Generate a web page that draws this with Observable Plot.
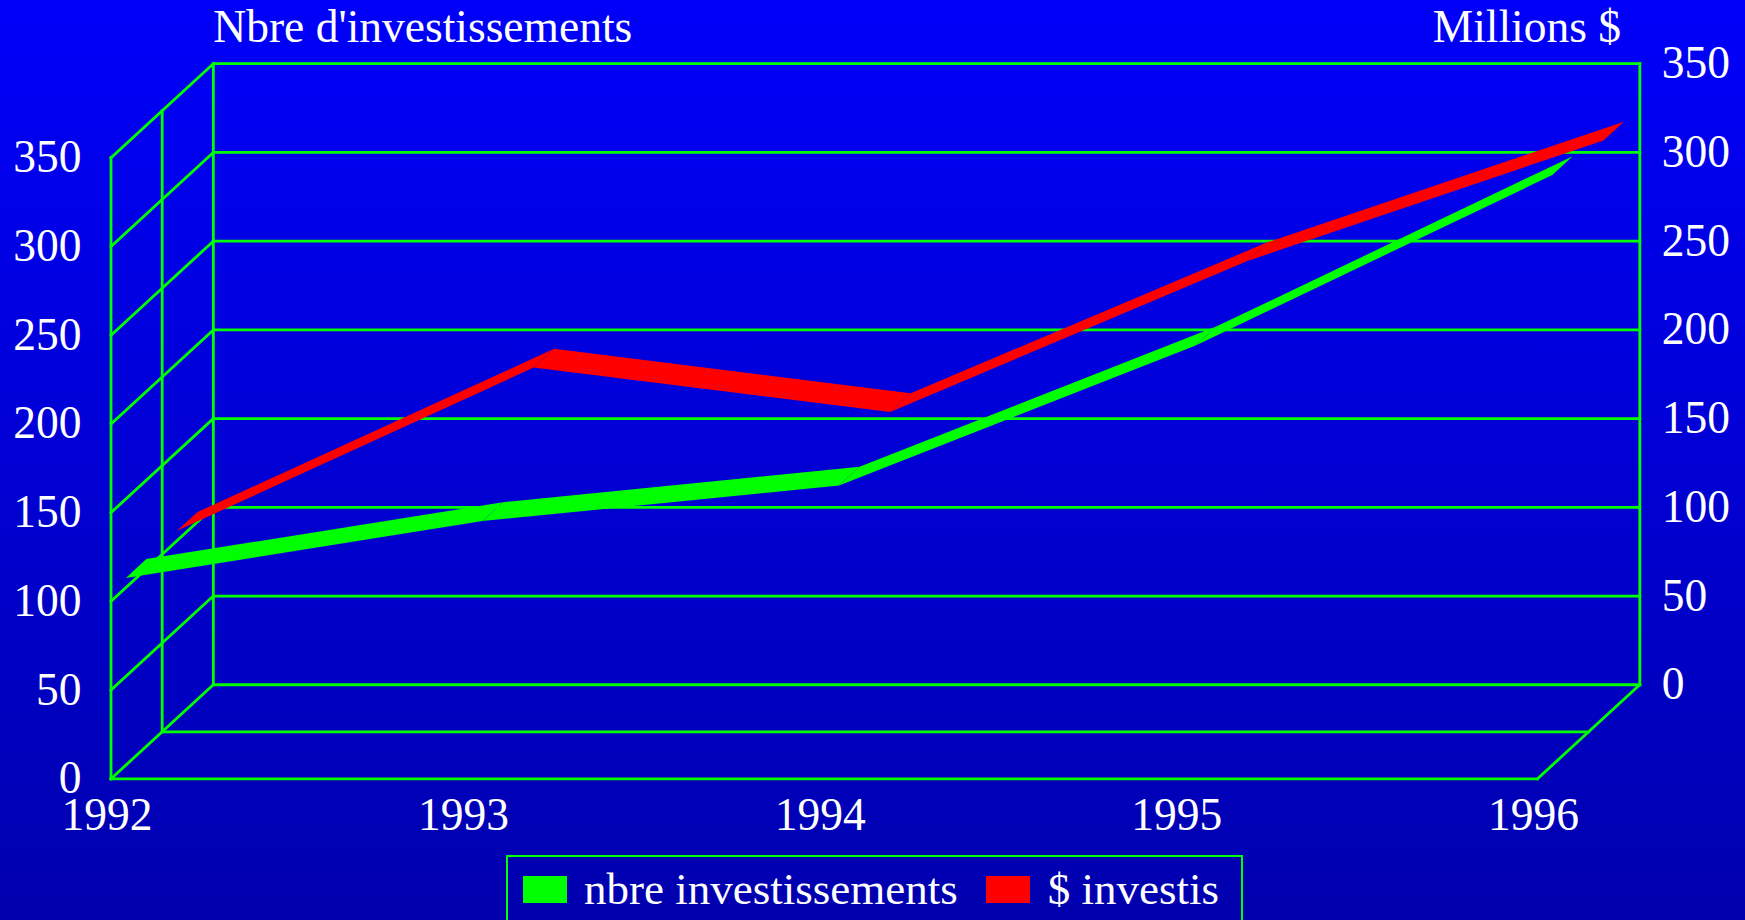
<!DOCTYPE html>
<html>
<head>
<meta charset="utf-8">
<script src="https://cdn.jsdelivr.net/npm/d3@7"></script>
<script src="https://cdn.jsdelivr.net/npm/@observablehq/plot@0.6"></script>
<style>
  html, body { margin: 0; padding: 0; width: 1745px; height: 920px; overflow: hidden; }
  body { background: linear-gradient(to bottom, #0000fa 0%, #0000ae 100%); position: relative;
         font-family: "Liberation Serif", "Times New Roman", serif; color: white; }
  #chart { position: absolute; left: 0; top: 0; }
  #legend { position: absolute; left: 506px; top: 855px; width: 737px; height: 80px; box-sizing: border-box;
            border: 2.5px solid #00ff00; display: flex; align-items: flex-start; padding-top: 18.5px; padding-left: 14.5px; }
  #legend .sw { width: 44px; height: 27px; flex: none; }
  #legend .lb { font-size: 45px; line-height: 27px; white-space: nowrap; margin-left: 17.5px; }
  #legend .item + .item { margin-left: 28.5px; }
  #legend .item { display: flex; align-items: flex-start; }
</style>
</head>
<body>
<div id="chart"></div>
<div id="legend"></div>
<script>
// ---- data ----
const years = [1992, 1993, 1994, 1995, 1996];
const nbreInvestissements = [105, 137, 157, 236, 332];
const dollarsInvestis = [105, 197, 172, 257, 325];
const yTicks = [0, 50, 100, 150, 200, 250, 300, 350];
const seriesNames = ["nbre investissements", "$ investis"];
const seriesColors = ["#00ff00", "#ff0000"];
const axisTitles = ["Nbre d'investissements", "Millions $"];

// ---- oblique 3D projection in data units (depth z in [0,1]) ----
const DX = 0.287;   // years per unit depth
const DY = 53;      // value units per unit depth
const P = (year, v, z) => [year + z * DX, v + z * DY];
const seg = (a, b) => ({x1: a[0], y1: a[1], x2: b[0], y2: b[1]});

const y0 = years[0], y1 = years[years.length - 1];
const vMax = yTicks[yTicks.length - 1];

const frame = [];
for (const v of yTicks) frame.push(seg(P(y0, v, 1), P(y1, v, 1)));   // back wall grid
frame.push(seg(P(y0, 0, 1), P(y0, vMax, 1)));
frame.push(seg(P(y1, 0, 1), P(y1, vMax, 1)));
for (const v of yTicks) frame.push(seg(P(y0, v, 0), P(y0, v, 1)));   // left wall diagonals
for (const z of [0, 0.5]) {
  frame.push(seg(P(y0, 0, z), P(y0, vMax, z)));                       // left wall verticals
  frame.push(seg(P(y0, 0, z), P(y1, 0, z)));                          // floor lines
}
frame.push(seg(P(y1, 0, 0), P(y1, 0, 1)));                            // right floor edge

function ribbon(values, zc, key) {
  const rows = [];
  const h = 0.1;
  for (let i = 0; i < values.length - 1; i++) {
    for (const j of [i, i + 1]) {
      const f = P(years[j], values[j], zc - h);
      const b = P(years[j], values[j], zc + h);
      rows.push({seg: key + i, x1: f[0], y1: f[1], x2: b[0], y2: b[1]});
    }
  }
  return rows;
}
const greenRows = ribbon(nbreInvestissements, 0.25, "g");
const redRows = ribbon(dollarsInvestis, 0.75, "r");

const chart = Plot.plot({
  width: 1745,
  height: 855,
  marginLeft: 110.5,
  marginRight: 105.7,
  marginTop: 63.2,
  marginBottom: 76.7,
  x: {domain: [y0, y1 + DX], label: null},
  y: {domain: [0, vMax + DY], label: null},
  style: {background: "transparent", color: "white", fontFamily: "'Liberation Serif', 'Times New Roman', serif", fontSize: "45.5px", overflow: "visible"},
  marks: [
    Plot.link(frame, {x1: "x1", y1: "y1", x2: "x2", y2: "y2", stroke: "#00ff00", strokeWidth: 2.8, strokeLinecap: "square"}),
    Plot.area(redRows, {x1: "x1", y1: "y1", x2: "x2", y2: "y2", z: "seg", fill: seriesColors[1]}),
    Plot.area(greenRows, {x1: "x1", y1: "y1", x2: "x2", y2: "y2", z: "seg", fill: seriesColors[0]}),
    Plot.axisY({ticks: yTicks, anchor: "left", tickSize: 0, tickPadding: 29.5, label: null, tickFormat: d => String(d)}),
    Plot.axisY({ticks: yTicks.map(v => v + DY), anchor: "right", tickSize: 0, tickPadding: 22, label: null, tickFormat: d => String(Math.round(d - DY))}),
    Plot.axisX({ticks: years, anchor: "bottom", tickSize: 0, tickPadding: 19, label: null, tickFormat: d => String(d), dx: -4}),
    Plot.text([axisTitles[0]], {x: () => y0 + DX, y: () => vMax + DY, text: d => d, textAnchor: "start", lineAnchor: "bottom", dy: -21.5, fill: "white"}),
    Plot.text([axisTitles[1]], {x: () => y1 + DX, y: () => vMax + DY, text: d => d, textAnchor: "end", lineAnchor: "bottom", dx: -18.7, dy: -21.5, fill: "white"})
  ]
});
document.getElementById("chart").appendChild(chart);

const legend = document.getElementById("legend");
seriesNames.forEach((name, i) => {
  const item = document.createElement("div");
  item.className = "item";
  const sw = document.createElement("div");
  sw.className = "sw";
  sw.style.background = seriesColors[i];
  const lb = document.createElement("span");
  lb.className = "lb";
  lb.textContent = name;
  item.appendChild(sw);
  item.appendChild(lb);
  legend.appendChild(item);
});
</script>
</body>
</html>
